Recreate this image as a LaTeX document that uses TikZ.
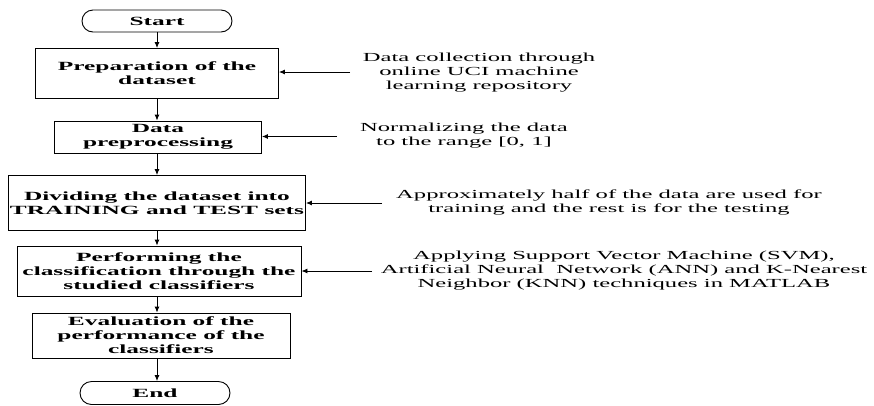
\documentclass[tikz,border=0pt]{standalone}
\usepackage{fontspec}
\setmainfont{Liberation Serif}[FakeStretch=2.0, BoldFeatures={FakeStretch=2.03}]
\usetikzlibrary{shapes.misc,arrows.meta}
\begin{document}
\begin{tikzpicture}[x=1pt,y=-1pt,
  box/.style={draw, line width=0.9pt, align=center, inner sep=0pt,
    font=\bfseries\fontsize{12.5}{14}\selectfont},
  term/.style={draw, rounded rectangle, line width=0.9pt, inner sep=0pt,
    font=\bfseries\fontsize{12.5}{14}\selectfont},
  note/.style={align=center, inner sep=0pt, font=\fontsize{12.3}{14}\selectfont},
  arr/.style={-{Latex[length=6pt,width=5pt]}, line width=0.9pt}]
\useasboundingbox (0,0) rectangle (874,405);
% flow
\node[term, minimum width=150pt, minimum height=22pt] (start) at (157,21) {Start};
\node[box, minimum width=243pt, minimum height=50pt] (prep) at (157,73.5) {Preparation of the\\dataset};
\node[box, minimum width=207pt, minimum height=32pt] (pre) at (158,137) {Data\\preprocessing};
\node[box, minimum width=297pt, minimum height=55pt] (div) at (157,203) {Dividing the dataset into\\TRAINING and TEST sets};
\node[box, minimum width=284pt, minimum height=50pt] (perf) at (159,271) {Performing the\\classification through the\\studied classifiers};
\node[box, minimum width=258pt, minimum height=45pt] (eval) at (161,335.5) {Evaluation of the\\performance of the\\classifiers};
\node[term, minimum width=150pt, minimum height=23pt] (end) at (155,393) {End};
\coordinate (ax) at (157,0);
\draw[arr] (ax |- start.south) -- (ax |- prep.north);
\draw[arr] (ax |- prep.south) -- (ax |- pre.north);
\draw[arr] (ax |- pre.south) -- (ax |- div.north);
\draw[arr] (ax |- div.south) -- (ax |- perf.north);
\draw[arr] (ax |- perf.south) -- (ax |- eval.north);
\draw[arr] (ax |- eval.south) -- (ax |- end.north);
% notes
\node[note] (n1) at (479,73) {Data collection through\\online UCI machine\\learning repository};
\node[note] (n2) at (464,136) {Normalizing the data\\to the range [0, 1]};
\node[note] (n3) at (609,202) {Approximately half of the data are used for\\training and the rest is for the testing};
\node[note] (n4) at (624,271) {Applying Support Vector Machine (SVM),\\Artificial Neural\ \ Network (ANN) and K-Nearest\\Neighbor (KNN) techniques in MATLAB};
\coordinate (c1) at (350,72);
\coordinate (c2) at (337,136.5);
\coordinate (c3) at (382,203);
\coordinate (c4) at (372,271);
\draw[arr] (c1) -- (prep.east |- c1);
\draw[arr] (c2) -- (pre.east |- c2);
\draw[arr] (c3) -- (div.east |- c3);
\draw[arr] (c4) -- (perf.east |- c4);
\end{tikzpicture}
\end{document}
